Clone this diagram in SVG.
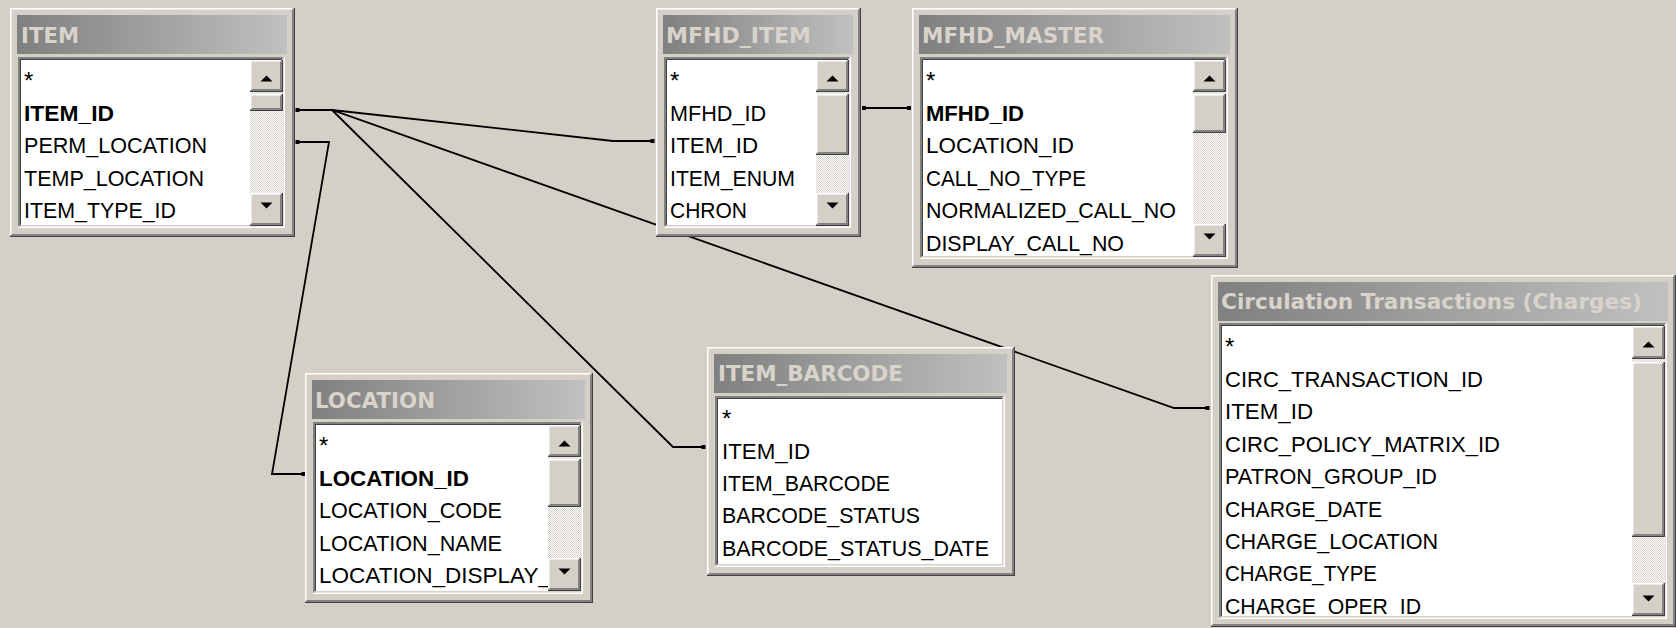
<svg xmlns="http://www.w3.org/2000/svg" width="1676" height="628" viewBox="0 0 1676 628">
<style>
.face{fill:#d4d0c8}
.wht{fill:#fff}
.hl{fill:none;stroke:#fff;stroke-width:1.5}
.lt{fill:none;stroke:#d4d0c8;stroke-width:1.5}
.dk{fill:none;stroke:#404040;stroke-width:1.5}
.md{fill:none;stroke:#808080;stroke-width:1.5}
.tb{fill:url(#tb)}
.ttl{font-family:"DejaVu Sans",Tahoma,sans-serif;font-weight:bold;font-size:20.5px;fill:#d8d4cc}
.f{font-family:"Liberation Sans",Arial,sans-serif;font-size:21.5px;fill:#000}
.pk{font-weight:bold}
.star{font-family:"Liberation Sans",Arial,sans-serif;font-size:24px;fill:#000}
.trk{fill:url(#dots)}
.arr{fill:#000}
.con{fill:none;stroke:#000;stroke-width:1.8;stroke-linejoin:miter}
.dot{fill:#000}
</style>
<defs>
<linearGradient id="tb" x1="0" y1="0" x2="1" y2="0">
<stop offset="0" stop-color="#808080"/>
<stop offset="1" stop-color="#c0c0c0"/>
</linearGradient>
<pattern id="dots" width="2" height="2" patternUnits="userSpaceOnUse">
<rect width="2" height="2" fill="#ffffff"/>
<rect width="1" height="1" fill="#d4d0c8"/>
<rect x="1" y="1" width="1" height="1" fill="#d4d0c8"/>
</pattern>
<clipPath id="clipLoc"><rect x="315" y="424" width="233" height="168"/></clipPath>
<clipPath id="clipCirc"><rect x="1221" y="325" width="411" height="291"/></clipPath>
</defs>
<rect x="0" y="0" width="1676" height="628" fill="#d4d0c8"/>

<g id="connectors">
<path class="con" d="M297,110 H332 L613,141 H653"/>
<path class="con" d="M297,110 H332 L673,447 H704"/>
<path class="con" d="M297,110 H332 L1174,408 H1208"/>
<path class="con" d="M297,142 H329 L272,474 H304"/>
<path class="con" d="M864,108 H909"/>
<rect class="dot" x="295.5" y="108" width="4" height="4"/>
<rect class="dot" x="295.5" y="140" width="4" height="4"/>
<rect class="dot" x="650.5" y="139" width="4" height="4"/>
<rect class="dot" x="701.5" y="445" width="4" height="4"/>
<rect class="dot" x="1205.5" y="406" width="4" height="4"/>
<rect class="dot" x="301.5" y="472" width="4" height="4"/>
<rect class="dot" x="862" y="106" width="4" height="4"/>
<rect class="dot" x="907" y="106" width="4" height="4"/>
</g>

<!-- ITEM -->
<g id="item">
<rect class="face" x="10" y="8" width="285" height="229"/>
<path class="hl" d="M10.75,236 V8.75 H294"/>
<path class="dk" d="M10,236.25 H294.25 V8"/>
<path class="md" d="M11.5,234.75 H292.75 V9.5"/>
<rect class="tb" x="17" y="15" width="270" height="39"/>
<text class="ttl" x="21" y="43" textLength="58" lengthAdjust="spacingAndGlyphs">ITEM</text>
<rect class="wht" x="18" y="57" width="267" height="171"/>
<path class="md" d="M18.75,228 V57.75 H285"/>
<path class="dk" d="M20.25,226.5 V59.25 H283.5"/>
<path class="hl" d="M18,227.25 H284.25 V57"/>
<path class="lt" d="M19.5,225.75 H282.75 V58.5"/>
<rect class="trk" x="250" y="60" width="33" height="166"/>
<g>
<rect class="face" x="250" y="60" width="33" height="32"/>
<path class="hl" d="M250.75,92 V60.75 H283"/><path class="dk" d="M250,91.25 H282.25 V60"/><path class="md" d="M251.5,89.75 H280.75 V61.5"/>
<polygon class="arr" points="260.5,81.5 266.5,75.5 272.5,81.5"/>
<rect class="face" x="250" y="94" width="33" height="17"/>
<path class="hl" d="M250.75,111 V94.75 H283"/><path class="dk" d="M250,110.25 H282.25 V94"/><path class="md" d="M251.5,108.75 H280.75 V95.5"/>
<rect class="face" x="250" y="193" width="33" height="33"/>
<path class="hl" d="M250.75,226 V193.75 H283"/><path class="dk" d="M250,225.25 H282.25 V193"/><path class="md" d="M251.5,223.75 H280.75 V194.5"/>
<polygon class="arr" points="260.5,202.5 272.5,202.5 266.5,208.5"/>
</g>
<text class="star" x="24" y="89">*</text>
<text class="f pk" x="24" y="121" textLength="90" lengthAdjust="spacingAndGlyphs">ITEM_ID</text>
<text class="f" x="24" y="153.4" textLength="183" lengthAdjust="spacingAndGlyphs">PERM_LOCATION</text>
<text class="f" x="24" y="185.8" textLength="180" lengthAdjust="spacingAndGlyphs">TEMP_LOCATION</text>
<text class="f" x="24" y="218.2" textLength="152" lengthAdjust="spacingAndGlyphs">ITEM_TYPE_ID</text>
</g>

<!-- MFHD_ITEM -->
<g id="mfhd_item">
<rect class="face" x="656" y="8" width="205" height="229"/>
<path class="hl" d="M656.75,236 V8.75 H860"/>
<path class="dk" d="M656,236.25 H860.25 V8"/>
<path class="md" d="M657.5,234.75 H858.75 V9.5"/>
<rect class="tb" x="663" y="15" width="190" height="39"/>
<text class="ttl" x="666" y="43" textLength="145" lengthAdjust="spacingAndGlyphs">MFHD_ITEM</text>
<rect class="wht" x="664" y="57" width="187" height="171"/>
<path class="md" d="M664.75,228 V57.75 H851"/>
<path class="dk" d="M666.25,226.5 V59.25 H849.5"/>
<path class="hl" d="M664,227.25 H850.25 V57"/>
<path class="lt" d="M665.5,225.75 H848.75 V58.5"/>
<rect class="trk" x="816" y="60" width="33" height="166"/>
<rect class="face" x="816" y="60" width="33" height="32"/>
<path class="hl" d="M816.75,92 V60.75 H849"/><path class="dk" d="M816,91.25 H848.25 V60"/><path class="md" d="M817.5,89.75 H846.75 V61.5"/>
<polygon class="arr" points="826.5,81.5 832.5,75.5 838.5,81.5"/>
<rect class="face" x="816" y="94" width="33" height="61"/>
<path class="hl" d="M816.75,155 V94.75 H849"/><path class="dk" d="M816,154.25 H848.25 V94"/><path class="md" d="M817.5,152.75 H846.75 V95.5"/>
<rect class="face" x="816" y="193" width="33" height="33"/>
<path class="hl" d="M816.75,226 V193.75 H849"/><path class="dk" d="M816,225.25 H848.25 V193"/><path class="md" d="M817.5,223.75 H846.75 V194.5"/>
<polygon class="arr" points="826.5,202.5 838.5,202.5 832.5,208.5"/>
<text class="star" x="670" y="89">*</text>
<text class="f" x="670" y="121" textLength="96" lengthAdjust="spacingAndGlyphs">MFHD_ID</text>
<text class="f" x="670" y="153.4" textLength="88" lengthAdjust="spacingAndGlyphs">ITEM_ID</text>
<text class="f" x="670" y="185.8" textLength="125" lengthAdjust="spacingAndGlyphs">ITEM_ENUM</text>
<text class="f" x="670" y="218.2" textLength="77" lengthAdjust="spacingAndGlyphs">CHRON</text>
</g>

<!-- MFHD_MASTER -->
<g id="mfhd_master">
<rect class="face" x="912" y="8" width="326" height="260"/>
<path class="hl" d="M912.75,267 V8.75 H1237"/>
<path class="dk" d="M912,267.25 H1237.25 V8"/>
<path class="md" d="M913.5,265.75 H1235.75 V9.5"/>
<rect class="tb" x="919" y="15" width="311" height="39"/>
<text class="ttl" x="922" y="43" textLength="182" lengthAdjust="spacingAndGlyphs">MFHD_MASTER</text>
<rect class="wht" x="920" y="57" width="308" height="202"/>
<path class="md" d="M920.75,259 V57.75 H1228"/>
<path class="dk" d="M922.25,257.5 V59.25 H1226.5"/>
<path class="hl" d="M920,258.25 H1227.25 V57"/>
<path class="lt" d="M921.5,256.75 H1225.75 V58.5"/>
<rect class="trk" x="1193" y="60" width="33" height="197"/>
<rect class="face" x="1193" y="60" width="33" height="32"/>
<path class="hl" d="M1193.75,92 V60.75 H1226"/><path class="dk" d="M1193,91.25 H1225.25 V60"/><path class="md" d="M1194.5,89.75 H1223.75 V61.5"/>
<polygon class="arr" points="1203.5,81.5 1209.5,75.5 1215.5,81.5"/>
<rect class="face" x="1193" y="94" width="33" height="39"/>
<path class="hl" d="M1193.75,133 V94.75 H1226"/><path class="dk" d="M1193,132.25 H1225.25 V94"/><path class="md" d="M1194.5,130.75 H1223.75 V95.5"/>
<rect class="face" x="1193" y="224" width="33" height="33"/>
<path class="hl" d="M1193.75,257 V224.75 H1226"/><path class="dk" d="M1193,256.25 H1225.25 V224"/><path class="md" d="M1194.5,254.75 H1223.75 V225.5"/>
<polygon class="arr" points="1203.5,233.5 1215.5,233.5 1209.5,239.5"/>
<text class="star" x="926" y="89">*</text>
<text class="f pk" x="926" y="121" textLength="98" lengthAdjust="spacingAndGlyphs">MFHD_ID</text>
<text class="f" x="926" y="153.4" textLength="148" lengthAdjust="spacingAndGlyphs">LOCATION_ID</text>
<text class="f" x="926" y="185.8" textLength="160" lengthAdjust="spacingAndGlyphs">CALL_NO_TYPE</text>
<text class="f" x="926" y="218.2" textLength="250" lengthAdjust="spacingAndGlyphs">NORMALIZED_CALL_NO</text>
<text class="f" x="926" y="250.6" textLength="198" lengthAdjust="spacingAndGlyphs">DISPLAY_CALL_NO</text>
</g>

<!-- LOCATION -->
<g id="location">
<rect class="face" x="305" y="373" width="288" height="230"/>
<path class="hl" d="M305.75,602 V373.75 H592"/>
<path class="dk" d="M305,602.25 H592.25 V373"/>
<path class="md" d="M306.5,600.75 H590.75 V374.5"/>
<rect class="tb" x="312" y="380" width="273" height="39"/>
<text class="ttl" x="315" y="408" textLength="120" lengthAdjust="spacingAndGlyphs">LOCATION</text>
<rect class="wht" x="313" y="422" width="270" height="172"/>
<path class="md" d="M313.75,594 V422.75 H583"/>
<path class="dk" d="M315.25,592.5 V424.25 H581.5"/>
<path class="hl" d="M313,593.25 H582.25 V422"/>
<path class="lt" d="M314.5,591.75 H580.75 V423.5"/>
<rect class="trk" x="548" y="425" width="33" height="166"/>
<rect class="face" x="548" y="425" width="33" height="32"/>
<path class="hl" d="M548.75,457 V425.75 H581"/><path class="dk" d="M548,456.25 H580.25 V425"/><path class="md" d="M549.5,454.75 H578.75 V426.5"/>
<polygon class="arr" points="558.5,446.5 564.5,440.5 570.5,446.5"/>
<rect class="face" x="548" y="459" width="33" height="48"/>
<path class="hl" d="M548.75,507 V459.75 H581"/><path class="dk" d="M548,506.25 H580.25 V459"/><path class="md" d="M549.5,504.75 H578.75 V460.5"/>
<rect class="face" x="548" y="558" width="33" height="33"/>
<path class="hl" d="M548.75,591 V558.75 H581"/><path class="dk" d="M548,590.25 H580.25 V558"/><path class="md" d="M549.5,588.75 H578.75 V559.5"/>
<polygon class="arr" points="558.5,568.5 570.5,568.5 564.5,574.5"/>
<g clip-path="url(#clipLoc)">
<text class="star" x="319" y="454">*</text>
<text class="f pk" x="319" y="486" textLength="150" lengthAdjust="spacingAndGlyphs">LOCATION_ID</text>
<text class="f" x="319" y="518.4" textLength="183" lengthAdjust="spacingAndGlyphs">LOCATION_CODE</text>
<text class="f" x="319" y="550.8" textLength="183" lengthAdjust="spacingAndGlyphs">LOCATION_NAME</text>
<text class="f" x="319" y="583.2" textLength="232" lengthAdjust="spacingAndGlyphs">LOCATION_DISPLAY_</text>
</g>
</g>

<!-- ITEM_BARCODE -->
<g id="item_barcode">
<rect class="face" x="707" y="347" width="308" height="229"/>
<path class="hl" d="M707.75,575 V347.75 H1014"/>
<path class="dk" d="M707,575.25 H1014.25 V347"/>
<path class="md" d="M708.5,573.75 H1012.75 V348.5"/>
<rect class="tb" x="714" y="354" width="293" height="39"/>
<text class="ttl" x="718" y="381" textLength="185" lengthAdjust="spacingAndGlyphs">ITEM_BARCODE</text>
<rect class="wht" x="715" y="396" width="290" height="171"/>
<path class="md" d="M715.75,567 V396.75 H1005"/>
<path class="dk" d="M717.25,565.5 V398.25 H1003.5"/>
<path class="hl" d="M715,566.25 H1004.25 V396"/>
<path class="lt" d="M716.5,564.75 H1002.75 V397.5"/>
<text class="star" x="722" y="427">*</text>
<text class="f" x="722" y="458.5" textLength="88" lengthAdjust="spacingAndGlyphs">ITEM_ID</text>
<text class="f" x="722" y="490.9" textLength="168" lengthAdjust="spacingAndGlyphs">ITEM_BARCODE</text>
<text class="f" x="722" y="523.3" textLength="198" lengthAdjust="spacingAndGlyphs">BARCODE_STATUS</text>
<text class="f" x="722" y="555.7" textLength="267" lengthAdjust="spacingAndGlyphs">BARCODE_STATUS_DATE</text>
</g>

<!-- Circulation Transactions -->
<g id="circ_transactions">
<rect class="face" x="1211" y="275" width="465" height="352"/>
<path class="hl" d="M1211.75,626 V275.75 H1675"/>
<path class="dk" d="M1211,626.25 H1675.25 V275"/>
<path class="md" d="M1212.5,624.75 H1673.75 V276.5"/>
<rect class="tb" x="1218" y="282" width="450" height="39"/>
<text class="ttl" x="1221" y="309" textLength="421" lengthAdjust="spacingAndGlyphs">Circulation Transactions (Charges)</text>
<rect class="wht" x="1219" y="323" width="448" height="296"/>
<path class="md" d="M1219.75,619 V323.75 H1667"/>
<path class="dk" d="M1221.25,617.5 V325.25 H1665.5"/>
<path class="hl" d="M1219,618.25 H1666.25 V323"/>
<path class="lt" d="M1220.5,616.75 H1664.75 V324.5"/>
<rect class="trk" x="1632" y="326" width="33" height="290"/>
<rect class="face" x="1632" y="326" width="33" height="33"/>
<path class="hl" d="M1632.75,359 V326.75 H1665"/><path class="dk" d="M1632,358.25 H1664.25 V326"/><path class="md" d="M1633.5,356.75 H1662.75 V327.5"/>
<polygon class="arr" points="1642.5,347.5 1648.5,341.5 1654.5,347.5"/>
<rect class="face" x="1632" y="362" width="33" height="175"/>
<path class="hl" d="M1632.75,537 V362.75 H1665"/><path class="dk" d="M1632,536.25 H1664.25 V362"/><path class="md" d="M1633.5,534.75 H1662.75 V363.5"/>
<rect class="face" x="1632" y="583" width="33" height="33"/>
<path class="hl" d="M1632.75,616 V583.75 H1665"/><path class="dk" d="M1632,615.25 H1664.25 V583"/><path class="md" d="M1633.5,613.75 H1662.75 V584.5"/>
<polygon class="arr" points="1642.5,595.5 1654.5,595.5 1648.5,601.5"/>
<g clip-path="url(#clipCirc)">
<text class="star" x="1225" y="355">*</text>
<text class="f" x="1225" y="387" textLength="258" lengthAdjust="spacingAndGlyphs">CIRC_TRANSACTION_ID</text>
<text class="f" x="1225" y="419.4" textLength="88" lengthAdjust="spacingAndGlyphs">ITEM_ID</text>
<text class="f" x="1225" y="451.8" textLength="275" lengthAdjust="spacingAndGlyphs">CIRC_POLICY_MATRIX_ID</text>
<text class="f" x="1225" y="484.2" textLength="212" lengthAdjust="spacingAndGlyphs">PATRON_GROUP_ID</text>
<text class="f" x="1225" y="516.6" textLength="157" lengthAdjust="spacingAndGlyphs">CHARGE_DATE</text>
<text class="f" x="1225" y="549" textLength="213" lengthAdjust="spacingAndGlyphs">CHARGE_LOCATION</text>
<text class="f" x="1225" y="581.4" textLength="152" lengthAdjust="spacingAndGlyphs">CHARGE_TYPE</text>
<text class="f" x="1225" y="613.8" textLength="196" lengthAdjust="spacingAndGlyphs">CHARGE_OPER_ID</text>
</g>
</g>
</svg>
